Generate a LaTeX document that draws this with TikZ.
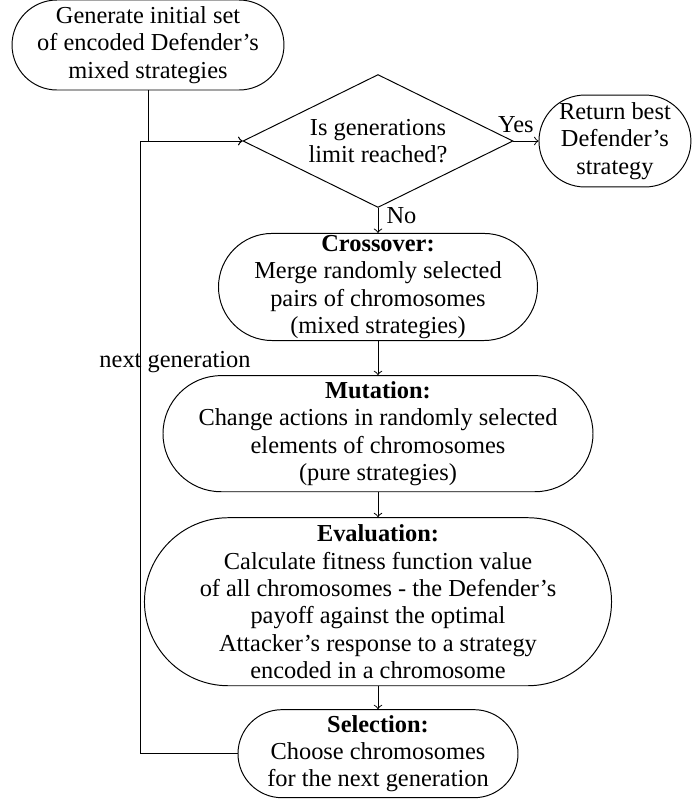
\documentclass[tikz,border=0pt]{standalone}
\usepackage{fontspec}
\setmainfont{Liberation Serif}
\usetikzlibrary{positioning, shapes.geometric}

\begin{document}
\begin{tikzpicture}[x=0.41pt, y=-0.41pt, node distance=10.25pt, auto,
    font=\fontsize{10pt}{11.2pt}\selectfont,
    stage/.style 2 args={draw, align=center, inner sep=0.5pt, minimum width=#1, minimum height=#2, rounded corners=#2/2}]
    \useasboundingbox (0,0) rectangle (692,801);

    \node (init) [stage={111.5pt}{36.9pt}] at (148,45) {Generate initial set\\of encoded Defender's\\mixed strategies};
    \node (limit) [diamond, draw, aspect=2, align=center, inner sep=0.5pt, minimum width=110.7pt, minimum height=54.5pt] at (378,141) {Is generations\\limit reached?};
    \node (best) [stage={62.3pt}{37.7pt}, right=10.25pt of limit] {Return best\\Defender's\\strategy};
    \node (crossover) [stage={130.8pt}{43.9pt}, below=of limit] {\textbf{Crossover:}\\Merge randomly selected\\pairs of chromosomes\\(mixed strategies)};
    \node (mutation) [stage={176.3pt}{47.6pt}, below=14pt of crossover] {\textbf{Mutation:}\\Change actions in randomly selected\\elements of chromosomes\\(pure strategies)};
    \node (evaluation) [stage={191.5pt}{68.9pt}, below=of mutation] {\textbf{Evaluation:}\\Calculate fitness function value\\of all chromosomes - the Defender's\\payoff against the optimal\\Attacker's response to a strategy\\encoded in a chromosome};
    \node (selection) [stage={114.8pt}{36.1pt}, below=9.4pt of evaluation] {\textbf{Selection:}\\Choose chromosomes\\for the next generation};
    \coordinate (loop) at (140,141);

    \draw[->] (init.south) |- (limit.west);
    \draw[->] (limit.east) -- node[pos=0.1] {Yes} (best.west);
    \draw[->] (limit.south) -- node[pos=0.3] {No} (crossover.north);
    \draw[->] (crossover) -- (mutation);
    \draw[->] (mutation) -- (evaluation);
    \draw[->] (evaluation) -- (selection);
    \draw[->] (selection.west) -| node[auto=false, pos=0.82, xshift=14.35pt] {next generation} (loop) -- (limit.west);
\end{tikzpicture}
\end{document}
